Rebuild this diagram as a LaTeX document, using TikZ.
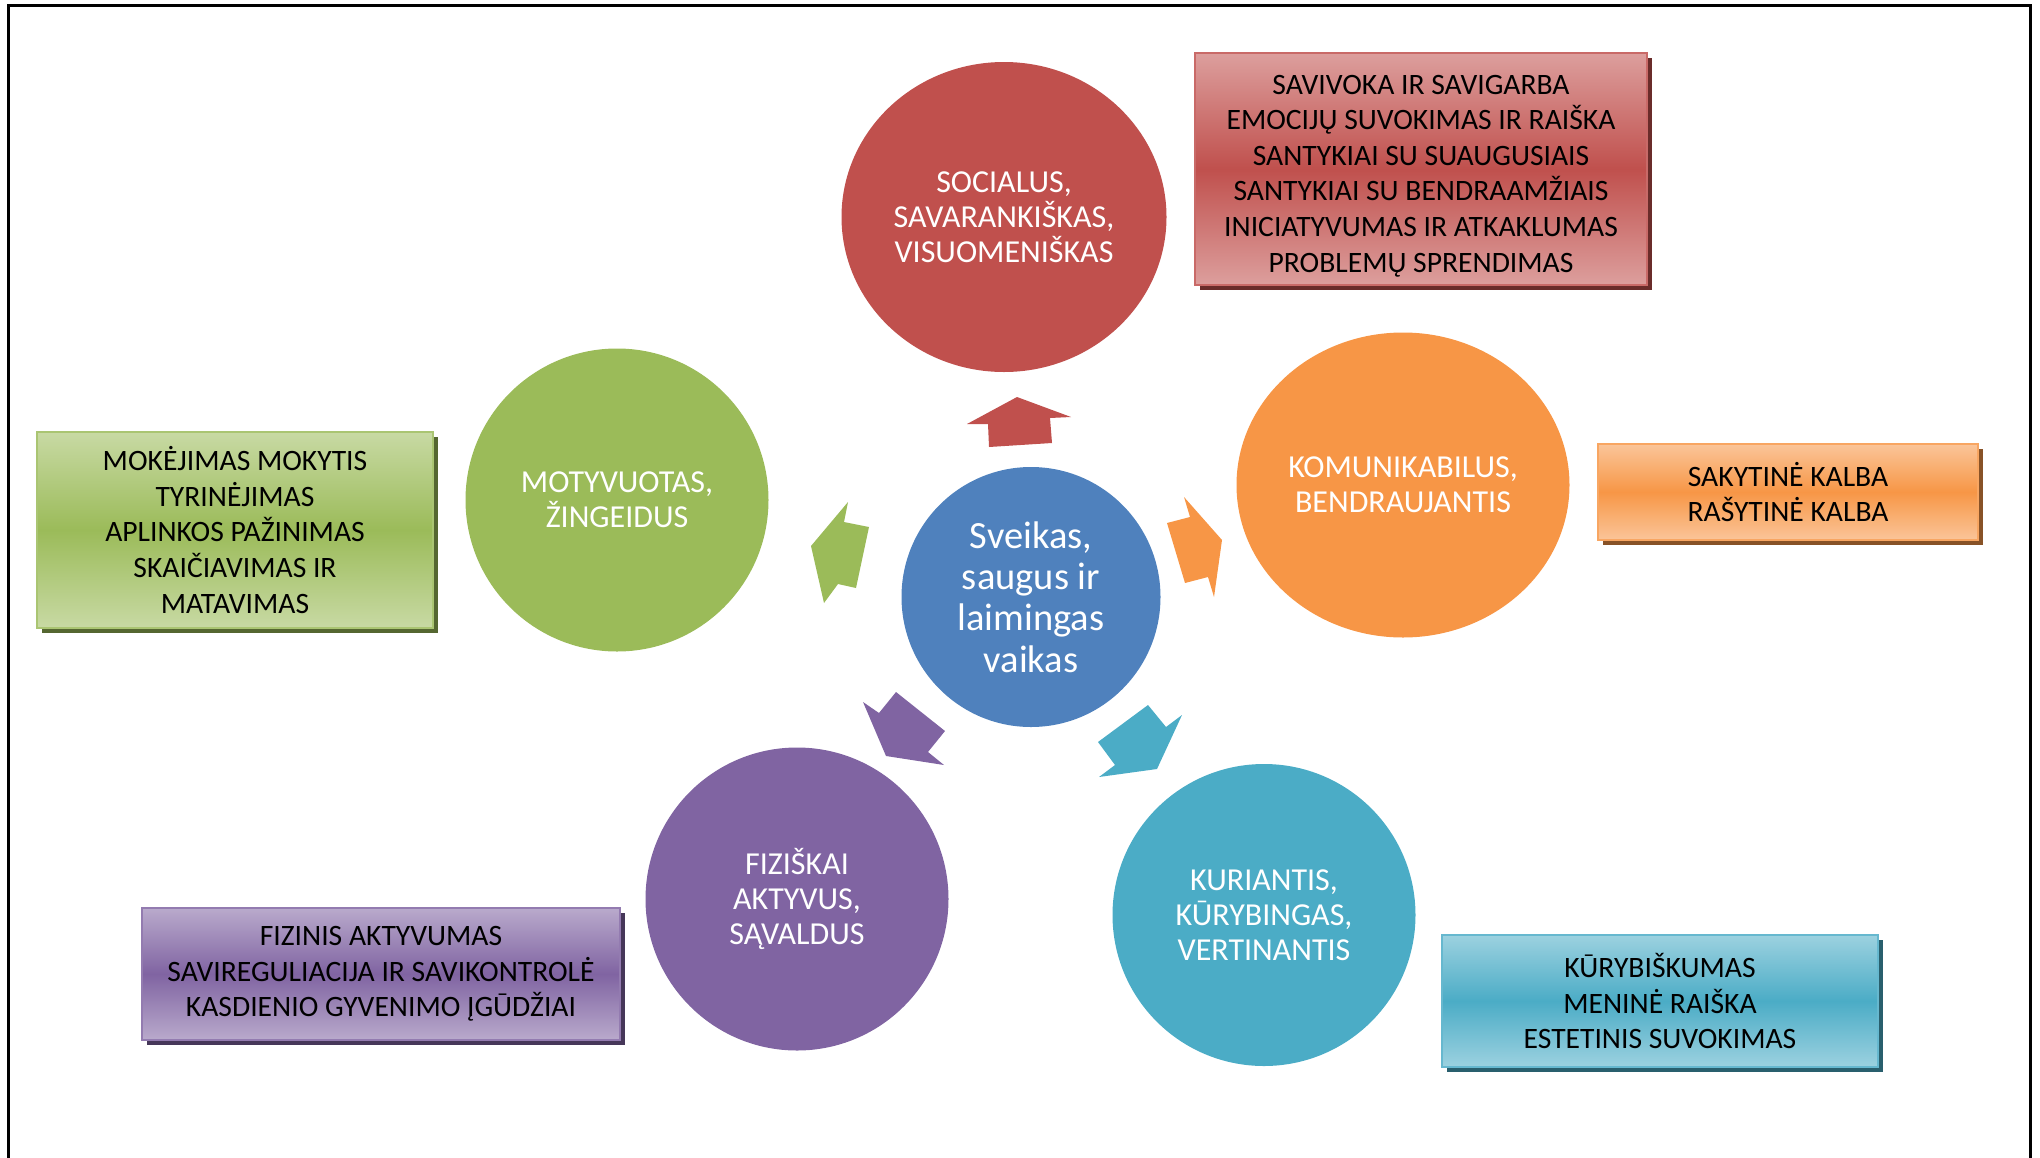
\documentclass[tikz,border=0pt]{standalone}
\usepackage{fontspec}
\setmainfont{Carlito}
\usetikzlibrary{shapes.geometric,shadows}
\definecolor{cRed}{HTML}{C0504D}
\definecolor{cGreen}{HTML}{9BBB59}
\definecolor{cOrange}{HTML}{F79646}
\definecolor{cBlue}{HTML}{4F81BD}
\definecolor{cPurple}{HTML}{8064A2}
\definecolor{cTeal}{HTML}{4BACC6}
\begin{document}
\begin{tikzpicture}[x=1pt,y=-1pt,
  bubble/.style={ellipse, inner sep=0pt, fill=#1, text=white, align=center,
    font=\fontsize{32}{35}\selectfont},
  hub/.style={bubble=cBlue, font=\fontsize{38.5}{41.3}\selectfont},
  infobox/.style={rectangle, inner sep=0pt, align=center, text=black,
    font=\fontsize{29.6}{35.6}\selectfont, line width=1.2pt, draw=#1!85!white,
    top color=#1!55!white, bottom color=#1!55!white, middle color=#1,
    general shadow={fill=#1!55!black, shadow xshift=5pt, shadow yshift=-5pt}},
  blockarrow/.style={fill=#1, draw=none}]
\useasboundingbox (0,0) rectangle (2040,1157);
\draw[line width=3pt] (8,1160) -- (8,5) -- (2030,5) -- (2030,1160);

% circles
\node[bubble=cRed, minimum width=325, minimum height=310] (soc) at (1004,217)
  {SOCIALUS,\\SAVARANKIŠKAS,\\VISUOMENIŠKAS};
\node[bubble=cGreen, minimum width=303, minimum height=303] (mot) at (617,500)
  {MOTYVUOTAS,\\ŽINGEIDUS};
\node[bubble=cOrange, minimum width=333, minimum height=305] (kom) at (1403,485)
  {KOMUNIKABILUS,\\BENDRAUJANTIS};
\node[hub, minimum width=259, minimum height=260] (vaik) at (1031,597)
  {Sveikas,\\saugus ir\\laimingas\\vaikas};
\node[bubble=cPurple, minimum width=303, minimum height=303] (fiz) at (797,899)
  {FIZIŠKAI\\AKTYVUS,\\SĄVALDUS};
\node[bubble=cTeal, minimum width=303, minimum height=302] (kur) at (1264,915)
  {KURIANTIS,\\KŪRYBINGAS,\\VERTINANTIS};

% boxes
\node[infobox=cRed, minimum width=452, minimum height=232] (bsoc) at (1421,169)
  {\rule{0pt}{33pt}SAVIVOKA IR SAVIGARBA\\EMOCIJŲ SUVOKIMAS IR RAIŠKA\\SANTYKIAI SU SUAUGUSIAIS\\SANTYKIAI SU BENDRAAMŽIAIS\\INICIATYVUMAS IR ATKAKLUMAS\\PROBLEMŲ SPRENDIMAS};
\node[infobox=cGreen, minimum width=396, minimum height=196] (bmot) at (235,530)
  {MOKĖJIMAS MOKYTIS\\TYRINĖJIMAS\\APLINKOS PAŽINIMAS\\SKAIČIAVIMAS IR\\MATAVIMAS};
\node[infobox=cOrange, minimum width=380, minimum height=96] (bkom) at (1788,492)
  {SAKYTINĖ KALBA\\RAŠYTINĖ KALBA};
\node[infobox=cPurple, minimum width=478, minimum height=132] (bfiz) at (381,974)
  {FIZINIS AKTYVUMAS\\SAVIREGULIACIJA IR SAVIKONTROLĖ\\KASDIENIO GYVENIMO ĮGŪDŽIAI};
\node[infobox=cTeal, minimum width=436, minimum height=132] (bkur) at (1660,1001)
  {KŪRYBIŠKUMAS\\MENINĖ RAIŠKA\\ESTETINIS SUVOKIMAS};

% block arrows
\fill[blockarrow=cRed] (1017,397) -- (1071,417) -- (1050,418) -- (1052,443)
  -- (989,447) -- (988,424) -- (967,424) -- cycle;
\fill[blockarrow=cOrange] (1184,497) -- (1222,540) -- (1214,597) -- (1208,577)
  -- (1185,583) -- (1167,523) -- (1190,517) -- cycle;
\fill[blockarrow=cGreen] (848,502) -- (844,522) -- (869,527) -- (856,588)
  -- (838,584) -- (824,603) -- (811,546) -- cycle;
\fill[blockarrow=cPurple] (863,702) -- (879,713) -- (896,692) -- (945,731)
  -- (928,752) -- (944,765) -- (886,756) -- cycle;
\fill[blockarrow=cTeal] (1148,705) -- (1166,727) -- (1182,715) -- (1157,769)
  -- (1099,777) -- (1115,765) -- (1098,742) -- cycle;
\end{tikzpicture}
\end{document}
